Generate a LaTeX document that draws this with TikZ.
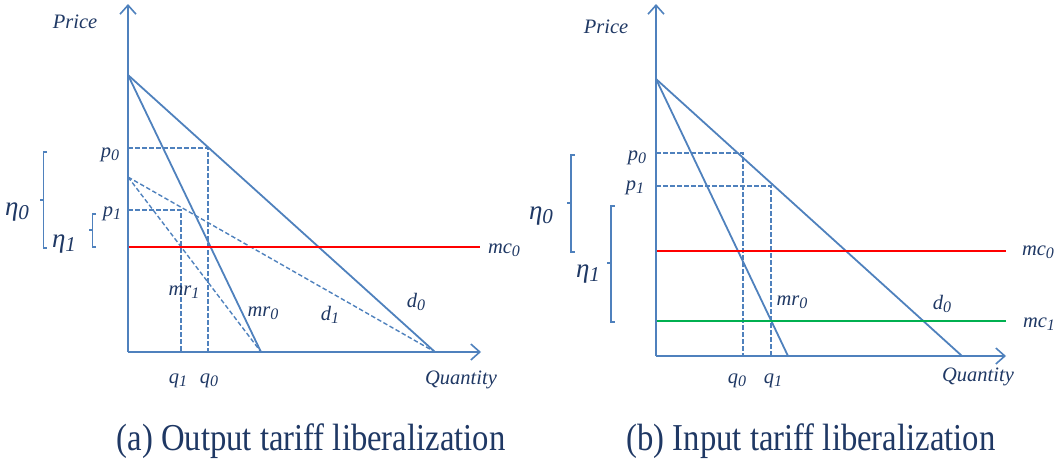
\documentclass[tikz,border=0pt]{standalone}
\usepackage{fontspec}
\setmainfont{Liberation Serif}
\usetikzlibrary{arrows.meta}
\definecolor{lblue}{HTML}{4F81BD}
\definecolor{tnavy}{HTML}{1F3864}
\definecolor{mcred}{HTML}{FF0000}
\definecolor{mcgreen}{HTML}{00B050}
\newcommand\lb[2]{\textit{#1}\raisebox{-0.35ex}{\scalebox{0.78}{\textit{#2}}}}
\begin{document}
\begin{tikzpicture}[x=1pt,y=-1pt,
  axis/.style={draw=lblue,line width=2.2pt,-{Straight Barb[length=9pt,width=16pt,line width=1.6pt]}},
  curve/.style={draw=lblue,line width=1.8pt},
  dcurve/.style={draw=lblue,line width=1.4pt,dash pattern=on 4.5pt off 2.5pt},
  brk/.style={draw=lblue,line width=1.4pt},
  lbl/.style={text=tnavy,font=\fontsize{20.5}{24}\selectfont,inner sep=0pt},
  eta/.style={text=tnavy,font=\fontsize{27}{30}\selectfont,inner sep=0pt},
  captxt/.style={text=tnavy,font=\fontsize{38}{42}\selectfont,inner sep=0pt}]
\useasboundingbox (0,0) rectangle (1057,463);
% ---------- panel (a) ----------
\coordinate (aO) at (128,352);
\coordinate (aY) at (128,4);
\coordinate (aX) at (481,352);
\coordinate (aT) at (128,75);
\coordinate (aT1) at (128,177);
\coordinate (aD) at (435,352);
\coordinate (aM) at (261,352);
\coordinate (ap0) at (128,148);
\coordinate (ap0e) at (208,148);
\coordinate (aq0) at (208,352);
\coordinate (ap1) at (128,210);
\coordinate (ap1e) at (181,210);
\coordinate (aq1) at (181,352);
\coordinate (amcs) at (129,247);
\coordinate (amce) at (480,247);
\draw[axis] (aO) -- (aY);
\draw[axis] (aO) -- (aX);
\draw[curve] (aT) -- (aD);
\draw[curve] (aT) -- (aM);
\draw[dcurve] (aT1) -- (aD);
\draw[dcurve] (aT1) -- (aM);
\draw[dcurve] (ap0) -- (ap0e) -- (aq0);
\draw[dcurve] (ap1) -- (ap1e) -- (aq1);
\draw[draw=mcred,line width=2.4pt] (amcs) -- (amce);
\draw[brk] (47,152) -- (43.5,152) -- (43.5,248) -- (47,248) (43.5,200) -- (39.5,200);
\draw[brk] (96,214) -- (92.5,214) -- (92.5,247) -- (96,247) (92.5,230) -- (88.5,230);
\node[lbl] (aprice) at (75,22) {\textit{Price}};
\node[lbl] (alp0) at (110,155) {\lb{p}{0}};
\node[lbl] (alp1) at (112,214) {\lb{p}{1}};
\node[eta] (aeta0) at (17,212) {\lb{η}{0}};
\node[eta] (aeta1) at (64,244) {\lb{η}{1}};
\node[lbl] (amr1) at (184,292) {\lb{mr}{1}};
\node[lbl] (amr0) at (263,313) {\lb{mr}{0}};
\node[lbl] (ad1) at (330,315) {\lb{d}{1}};
\node[lbl] (ad0) at (416,302) {\lb{d}{0}};
\node[lbl] (amc0) at (504,250) {\lb{mc}{0}};
\node[lbl] (aq1l) at (178,381) {\lb{q}{1}};
\node[lbl] (aq0l) at (209,381) {\lb{q}{0}};
\node[lbl] (aqty) at (461,380) {\textit{Quantity}};
\node[captxt] (capa) at (311,441) {\scalebox{0.86}[1]{(a) Output tariff liberalization}};
% ---------- panel (b) ----------
\coordinate (bO) at (656,356);
\coordinate (bY) at (656,4);
\coordinate (bX) at (1006,356);
\coordinate (bT) at (656,79);
\coordinate (bD) at (962,356);
\coordinate (bM) at (788,356);
\coordinate (bp0) at (656,153);
\coordinate (bp0e) at (743,153);
\coordinate (bq0) at (743,356);
\coordinate (bp1) at (656,186);
\coordinate (bp1e) at (771,186);
\coordinate (bq1) at (771,356);
\coordinate (bmc0s) at (657,251);
\coordinate (bmc0e) at (1006,251);
\coordinate (bmc1s) at (657,321);
\coordinate (bmc1e) at (1006,321);
\draw[axis] (bO) -- (bY);
\draw[axis] (bO) -- (bX);
\draw[curve] (bT) -- (bD);
\draw[curve] (bT) -- (bM);
\draw[dcurve] (bp0) -- (bp0e) -- (bq0);
\draw[dcurve] (bp1) -- (bp1e) -- (bq1);
\draw[draw=mcred,line width=1.6pt] (bmc0s) -- (bmc0e);
\draw[draw=mcgreen,line width=1.6pt] (bmc1s) -- (bmc1e);
\draw[brk] (574.5,155) -- (571,155) -- (571,252) -- (574.5,252) (571,203) -- (567,203);
\draw[brk] (614.5,206) -- (611,206) -- (611,322) -- (614.5,322) (611,263) -- (607,263);
\node[lbl] (bprice) at (606,27) {\textit{Price}};
\node[lbl] (blp0) at (637,158) {\lb{p}{0}};
\node[lbl] (blp1) at (635,188) {\lb{p}{1}};
\node[eta] (beta0) at (541,216) {\lb{η}{0}};
\node[eta] (beta1) at (588,274) {\lb{η}{1}};
\node[lbl] (bmr0) at (792,302) {\lb{mr}{0}};
\node[lbl] (bd0) at (942,304) {\lb{d}{0}};
\node[lbl] (bmc0) at (1038,252) {\lb{mc}{0}};
\node[lbl] (bmc1) at (1039,324) {\lb{mc}{1}};
\node[lbl] (bq0l) at (737,381) {\lb{q}{0}};
\node[lbl] (bq1l) at (773,381) {\lb{q}{1}};
\node[lbl] (bqty) at (978,377) {\textit{Quantity}};
\node[captxt] (capb) at (811,441) {\scalebox{0.86}[1]{(b) Input tariff liberalization}};
\end{tikzpicture}
\end{document}
